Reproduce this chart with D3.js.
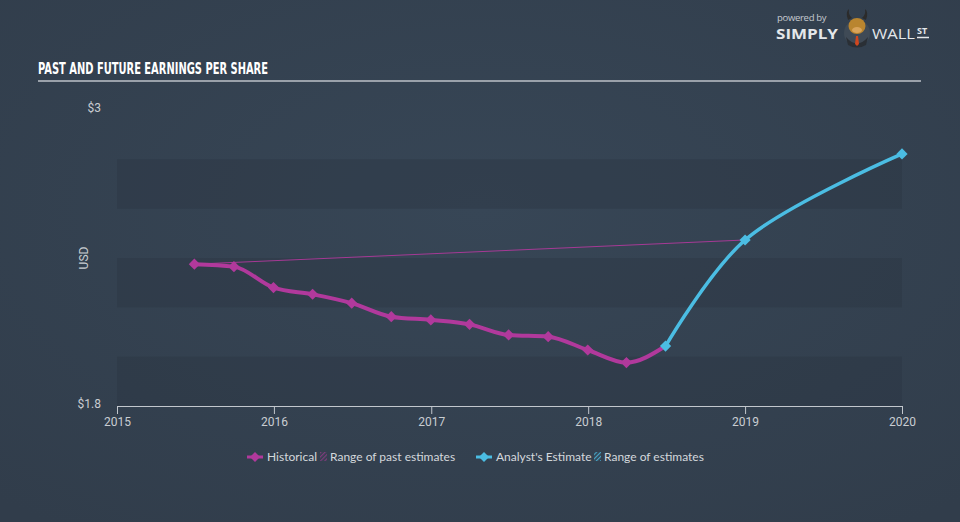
<!DOCTYPE html>
<html>
<head>
<meta charset="utf-8">
<script src="https://cdn.jsdelivr.net/npm/d3@7/dist/d3.min.js"></script>
<style>
  html, body { margin: 0; padding: 0; background: #333f4e; }
  svg { display: block; }
</style>
</head>
<body>
<svg id="chart" width="960" height="522"></svg>
<script>
// ---- data ----
const historicalDates = ["2015-06-30","2015-09-30","2015-12-31","2016-03-31","2016-06-30","2016-09-30","2016-12-31","2017-03-31","2017-06-30","2017-09-30","2017-12-31","2018-03-31","2018-06-30"];
const historicalValues = [2.375, 2.365, 2.280, 2.253, 2.217, 2.162, 2.149, 2.131, 2.088, 2.081, 2.027, 1.976, 2.043];
const estimateDates = ["2018-06-30","2019-01-01","2020-01-01"];
const estimateValues = [2.043, 2.473, 2.822];
const pastEstimateDates = ["2015-06-30","2019-01-01"];
const pastEstimateValues = [2.375, 2.473];
const xTickYears = [2015, 2016, 2017, 2018, 2019, 2020];
const yTickValues = [1.8, 3];
const yTickLabels = ["$1.8", "$3"];
const bandRanges = [[1.8, 2.0], [2.2, 2.4], [2.6, 2.8]];
const title = "PAST AND FUTURE EARNINGS PER SHARE";
const yAxisTitle = "USD";
const legendItems = ["Historical", "Range of past estimates", "Analyst's Estimate", "Range of estimates"];

const MAGENTA = "#b1399c";
const CYAN = "#4bbde3";
const TEXT = "#c9cdd2";

const parse = d3.timeParse("%Y-%m-%d");
const hist = historicalDates.map((d, i) => ({ date: parse(d), value: historicalValues[i] }));
const est = estimateDates.map((d, i) => ({ date: parse(d), value: estimateValues[i] }));
const pastEst = pastEstimateDates.map((d, i) => ({ date: parse(d), value: pastEstimateValues[i] }));

const svg = d3.select("#chart");
const defs = svg.append("defs");
const grad = defs.append("radialGradient").attr("id", "bg").attr("cx", "50%").attr("cy", "40%").attr("r", "75%");
grad.append("stop").attr("offset", "0%").attr("stop-color", "#374656");
grad.append("stop").attr("offset", "100%").attr("stop-color", "#313d4b");
svg.append("rect").attr("width", 960).attr("height", 522).attr("fill", "url(#bg)");

const pat = defs.append("pattern").attr("id", "hatchM").attr("width", 3).attr("height", 3)
  .attr("patternUnits", "userSpaceOnUse").attr("patternTransform", "rotate(45)");
pat.append("rect").attr("width", 1.2).attr("height", 3).attr("fill", MAGENTA);
const pat2 = defs.append("pattern").attr("id", "hatchC").attr("width", 3).attr("height", 3)
  .attr("patternUnits", "userSpaceOnUse").attr("patternTransform", "rotate(45)");
pat2.append("rect").attr("width", 1.2).attr("height", 3).attr("fill", CYAN);

// ---- title ----
svg.append("text").attr("x", 38).attr("y", 74)
  .attr("font-family", "'Liberation Sans Narrow', 'DejaVu Sans Condensed', sans-serif")
  .attr("font-weight", "bold").attr("font-size", 16.5).attr("fill", "#ffffff")
  .attr("textLength", 230).attr("lengthAdjust", "spacingAndGlyphs")
  .text(title);
svg.append("line").attr("x1", 38).attr("x2", 921).attr("y1", 81).attr("y2", 81)
  .attr("stroke", "#9aa1aa").attr("stroke-width", 2);

// ---- logo ----
const logo = svg.append("g");
logo.append("text").attr("x", 777).attr("y", 21).attr("font-family", "'Open Sans', sans-serif")
  .attr("font-size", 9.5).attr("fill", "#c6cad0").attr("letter-spacing", -0.3).text("powered by");
logo.append("text").attr("x", 776).attr("y", 39).attr("font-family", "'Open Sans', sans-serif")
  .attr("font-weight", "bold").attr("font-size", 14).attr("fill", "#e4e7ea")
  .attr("textLength", 62).attr("lengthAdjust", "spacingAndGlyphs").text("SIMPLY");
logo.append("circle").attr("cx", 857).attr("cy", 33).attr("r", 13).attr("fill", "#3f4a56");
logo.append("path").attr("d", "M846,37 Q857,50 868,37 L866,45 Q857,50 848,45 Z").attr("fill", "#2a2f35");
logo.append("path").attr("d", "M848,20 Q845,12 849,9 Q848,15 852,18 Z").attr("fill", "#2b2b2b");
logo.append("path").attr("d", "M866,20 Q869,12 865,9 Q866,15 862,18 Z").attr("fill", "#2b2b2b");
logo.append("ellipse").attr("cx", 857).attr("cy", 26).attr("rx", 8.5).attr("ry", 8).attr("fill", "#b9852f");
logo.append("ellipse").attr("cx", 857).attr("cy", 30).attr("rx", 5).attr("ry", 3).attr("fill", "#d9a45a");
logo.append("path").attr("d", "M856,36 L858,36 L859,44 L857,46 L855,44 Z").attr("fill", "#d0461f");
logo.append("text").attr("x", 872).attr("y", 39).attr("font-family", "'Open Sans', sans-serif")
  .attr("font-size", 14).attr("fill", "#e4e7ea")
  .attr("textLength", 43).attr("lengthAdjust", "spacingAndGlyphs").text("WALL");
logo.append("text").attr("x", 917).attr("y", 34).attr("font-family", "'Open Sans', sans-serif")
  .attr("font-weight", "bold").attr("font-size", 9).attr("fill", "#e4e7ea").text("ST");
logo.append("line").attr("x1", 917).attr("x2", 929).attr("y1", 37.5).attr("y2", 37.5)
  .attr("stroke", "#e4e7ea").attr("stroke-width", 1.5);

// ---- scales ----
const x = d3.scaleTime().domain([new Date(2015, 0, 1), new Date(2020, 0, 1)]).range([117, 902]);
const y = d3.scaleLinear().domain([1.8, 3]).range([406, 110]);

// bands
svg.append("g").selectAll("rect").data(bandRanges).join("rect")
  .attr("x", x.range()[0]).attr("width", x.range()[1] - x.range()[0])
  .attr("y", d => y(d[1])).attr("height", d => y(d[0]) - y(d[1]))
  .attr("fill", "#28323f").attr("opacity", 0.32);

// y axis labels
svg.append("g").selectAll("text").data(yTickValues).join("text")
  .attr("x", 101).attr("y", d => y(d) - 2).attr("dy", "0.32em")
  .attr("text-anchor", "end").attr("font-family", "Roboto, 'Open Sans', sans-serif")
  .attr("font-size", 12).attr("fill", TEXT)
  .text((d, i) => yTickLabels[i]);
svg.append("text").attr("transform", "translate(88,258) rotate(-90)")
  .attr("text-anchor", "middle").attr("font-family", "Roboto, 'Open Sans', sans-serif")
  .attr("font-size", 12).attr("fill", TEXT).text(yAxisTitle);

// x axis
const xAxis = d3.axisBottom(x)
  .tickValues(xTickYears.map(yr => new Date(yr, 0, 1)))
  .tickFormat(d3.timeFormat("%Y")).tickSizeInner(8).tickSizeOuter(0).tickPadding(3);
const gx = svg.append("g").attr("transform", `translate(0,${y(1.8)})`).call(xAxis);
gx.select(".domain").attr("stroke", "#c2c7cd").attr("stroke-width", 1);
gx.selectAll(".tick line").attr("stroke", "#c2c7cd").attr("stroke-width", 1);
gx.selectAll(".tick text").attr("fill", TEXT).attr("font-size", 12)
  .attr("font-family", "Roboto, 'Open Sans', sans-serif");

// past estimate line
const straight = d3.line().x(d => x(d.date)).y(d => y(d.value));
svg.append("path").datum(pastEst).attr("d", straight)
  .attr("fill", "none").attr("stroke", MAGENTA).attr("stroke-width", 1).attr("opacity", 0.9);

// lines
const curve = d3.line().x(d => x(d.date)).y(d => y(d.value)).curve(d3.curveMonotoneX);
svg.append("path").datum(hist).attr("d", curve)
  .attr("fill", "none").attr("stroke", MAGENTA).attr("stroke-width", 4);
const curveE = d3.line().x(d => x(d.date)).y(d => y(d.value)).curve(d3.curveCatmullRom.alpha(0.5));
svg.append("path").datum(est).attr("d", curveE)
  .attr("fill", "none").attr("stroke", CYAN).attr("stroke-width", 3.5);

const diamond = d3.symbol().type(d3.symbolDiamond2).size(80);
svg.append("g").selectAll("path").data(hist.slice(0, -1)).join("path")
  .attr("d", diamond).attr("transform", d => `translate(${x(d.date)},${y(d.value)})`)
  .attr("fill", MAGENTA);
svg.append("g").selectAll("path").data(est).join("path")
  .attr("d", diamond).attr("transform", d => `translate(${x(d.date)},${y(d.value)})`)
  .attr("fill", CYAN);

// legend
const lg = svg.append("g").attr("font-family", "Lato, 'Open Sans', sans-serif")
  .attr("font-size", 12).attr("fill", "#d4d8dc");
function legendLine(cx, color) {
  lg.append("line").attr("x1", cx - 8).attr("x2", cx + 8).attr("y1", 457).attr("y2", 457)
    .attr("stroke", color).attr("stroke-width", 3);
  lg.append("path").attr("d", d3.symbol().type(d3.symbolDiamond2).size(64))
    .attr("transform", `translate(${cx},457)`).attr("fill", color);
}
legendLine(255, MAGENTA);
lg.append("text").attr("x", 267).attr("y", 461).text(legendItems[0]);
lg.append("rect").attr("x", 320).attr("y", 452).attr("width", 7).attr("height", 9).attr("fill", "url(#hatchM)").attr("opacity", 0.6);
lg.append("text").attr("x", 330).attr("y", 461).text(legendItems[1]);
legendLine(484, CYAN);
lg.append("text").attr("x", 496).attr("y", 461).text(legendItems[2]);
lg.append("rect").attr("x", 594).attr("y", 452).attr("width", 7).attr("height", 9).attr("fill", "url(#hatchC)").attr("opacity", 0.8);
lg.append("text").attr("x", 604).attr("y", 461).text(legendItems[3]);
</script>
</body>
</html>
